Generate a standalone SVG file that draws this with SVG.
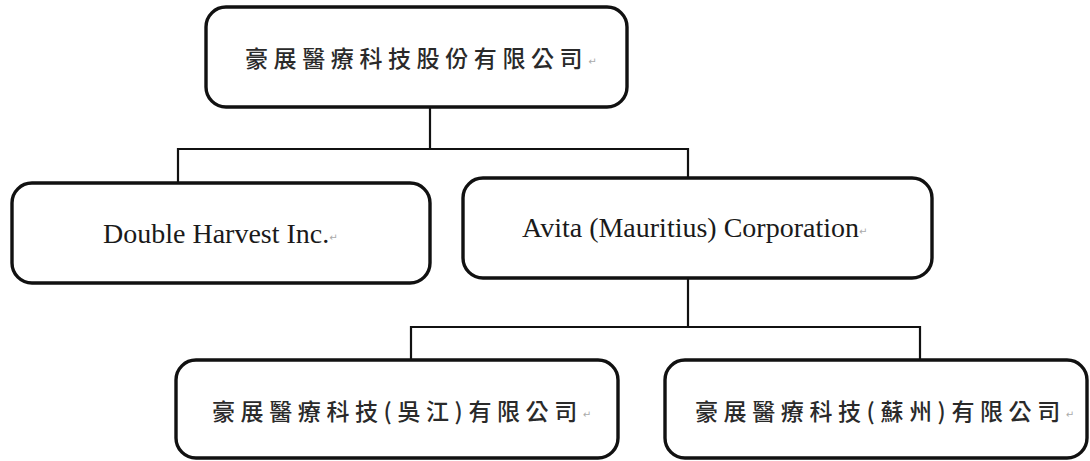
<svg xmlns="http://www.w3.org/2000/svg" width="1090" height="461" viewBox="0 0 1090 461">
<style>
.box{fill:#fff;stroke:#111;stroke-width:3.4}
.con{fill:none;stroke:#111;stroke-width:2.2}
.cjk{font-family:"Noto Sans CJK TC","Noto Sans CJK SC",sans-serif;font-size:23px;font-weight:500;fill:#2a2a2a;letter-spacing:5.6px}
.lat{font-family:"Liberation Serif",serif;font-size:28px;fill:#1a1a1a}
.pm{font-family:"DejaVu Sans",sans-serif;font-size:10px;font-weight:normal;fill:#aaa;letter-spacing:0}
</style>
<rect width="1090" height="461" fill="#fff"/>
<g id="connectors">
<polyline class="con" points="430,107 430,149"/>
<polyline class="con" points="178,183 178,149 688,149 688,178"/>
<polyline class="con" points="688,278 688,327"/>
<polyline class="con" points="411,360 411,327 920,327 920,360"/>
</g>
<g id="node-parent">
<rect class="box" x="206" y="7" width="421" height="100" rx="20"/>
<text class="cjk" x="245" y="57" dominant-baseline="central">豪展醫療科技股份有限公司<tspan class="pm" dy="4">↵</tspan></text>
</g>
<g id="node-double-harvest">
<rect class="box" x="12" y="183" width="418" height="100" rx="20"/>
<text class="lat" x="103" y="243">Double Harvest Inc.<tspan class="pm" dy="-2">↵</tspan></text>
</g>
<g id="node-avita">
<rect class="box" x="463" y="178" width="469" height="100" rx="20"/>
<text class="lat" x="522" y="237">Avita (Mauritius) Corporation<tspan class="pm" dy="-2">↵</tspan></text>
</g>
<g id="node-wujiang">
<rect class="box" x="176" y="360" width="442" height="98" rx="20"/>
<text class="cjk" x="212" y="410" dominant-baseline="central">豪展醫療科技(吳江)有限公司<tspan class="pm" dy="4">↵</tspan></text>
</g>
<g id="node-suzhou">
<rect class="box" x="665" y="360" width="422" height="98" rx="20"/>
<text class="cjk" x="695" y="410" dominant-baseline="central">豪展醫療科技(蘇州)有限公司<tspan class="pm" dy="4">↵</tspan></text>
</g>
</svg>
